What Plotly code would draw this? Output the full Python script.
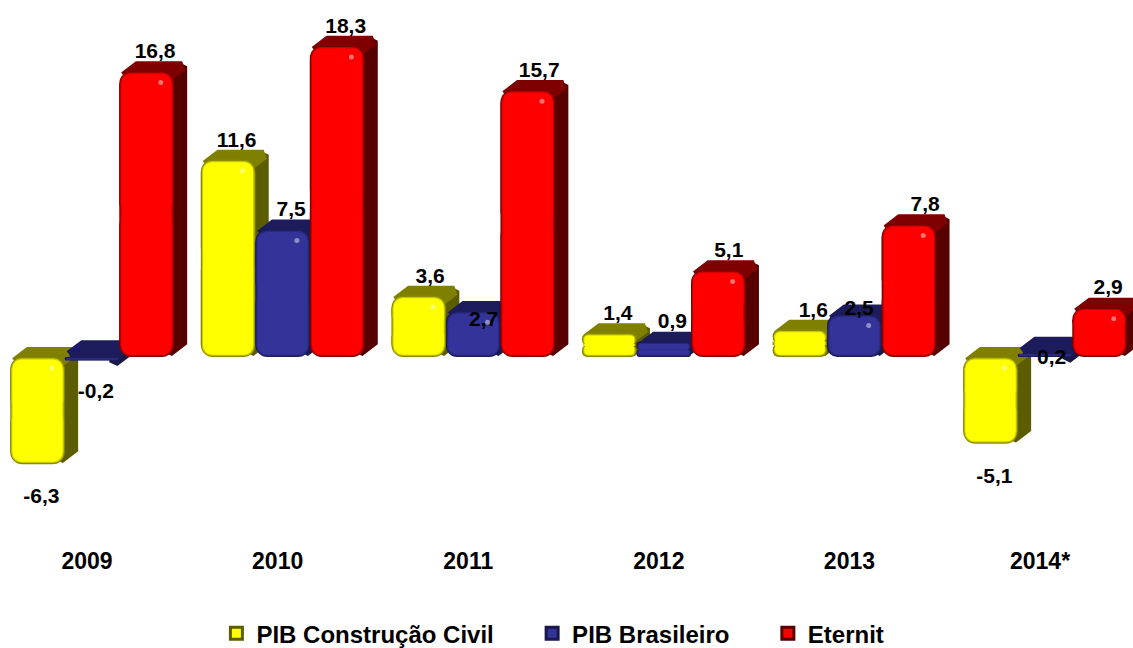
import plotly.graph_objects as go

years = ['2009', '2010', '2011', '2012', '2013', '2014*']
construcao = [-6.3, 11.6, 3.6, 1.4, 1.6, -5.1]
brasileiro = [-0.2, 7.5, 2.7, 0.9, 2.5, 0.2]
eternit = [16.8, 18.3, 15.7, 5.1, 7.8, 2.9]

# label nudges where the original label sits off its usual spot
nudge_construcao = [0, 0, 0, 0, 0, 0]
nudge_brasileiro = [0.1, 0, -1.66, 0, -0.82, -1.4]
nudge_eternit = [0, 0, 0, 0, 0, 0]
shift_construcao = [0, 0, 0.015, 0, 0.025, 0]
shift_brasileiro = [0, 0, 0.01, 0, -0.02, -0.01]
shift_eternit = [0, 0, 0.015, 0.01, 0.04, 0]

# name, values, y nudges, x shifts, group offset, bevel colours from edge to face, top face, side face
series = [
    ('PIB Construção Civil', construcao, nudge_construcao, shift_construcao, -0.286,
     ['#8a8a00', '#caca00', '#ffff00'], '#808000', '#5c5c00'),
    ('PIB Brasileiro', brasileiro, nudge_brasileiro, shift_brasileiro, 0,
     ['#1c1c5c', '#29297e', '#333399'], '#1c1c5c', '#18184a'),
    ('Eternit', eternit, nudge_eternit, shift_eternit, 0.286,
     ['#7a0000', '#c80000', '#ff0000'], '#7f0000', '#560000'),
]

bar_w = 0.286
depth_x = 0.07
depth_y = 0.6
step_x = 0.006
step_y = 0.07
round_x = 0.026
round_y = 0.3
px_per_unit = 17

fig = go.Figure()


def polygon(faces):
    xs, ys = [], []
    for p in faces:
        xs.extend([q[0] for q in p] + [p[0][0], None])
        ys.extend([q[1] for q in p] + [p[0][1], None])
    return xs, ys


# extruded faces go on the lower axes, so every front bar covers them
for name, vals, nudges, shifts, off, bevel, top, side in series:
    top_faces, side_faces = [], []
    for i, v in enumerate(vals):
        x0 = i + off - bar_w / 2 + round_x
        x1 = i + off + bar_w / 2 - round_x
        hi = max(v, 0) - round_y
        lo = min(v, 0) + round_y
        if hi < lo:
            hi, lo = lo, hi
        top_faces.append([(x0, hi), (x0 + depth_x, hi + depth_y), (x1 + depth_x, hi + depth_y), (x1, hi)])
        side_faces.append([(x1, hi), (x1 + depth_x, hi + depth_y), (x1 + depth_x, lo + depth_y), (x1, lo)])
    for faces, colour in ((side_faces, side), (top_faces, top)):
        xs, ys = polygon(faces)
        fig.add_trace(go.Scatter(x=xs, y=ys, mode='lines', fill='toself', fillcolor=colour,
                                 line=dict(color=colour, width=10), hoverinfo='skip', showlegend=False))

for name, vals, nudges, shifts, off, bevel, top, side in series:
    xpos = [i + off for i in range(len(years))]
    # legend-only entry, bright centre and dark rim, padded to the original spacing
    fig.add_trace(go.Bar(x=[None], y=[None], name=name + '\u00a0' * 5, xaxis='x2', yaxis='y2',
                         marker=dict(color=bevel[2], line=dict(color=side, width=3))))
    for level, colour in enumerate(bevel):
        inset = level * step_y
        w = bar_w - 2 * level * step_x
        lows = [min(v, 0) + inset for v in vals]
        highs = [max(v, 0) - inset for v in vals]
        mids = [(a + b) / 2 for a, b in zip(lows, highs)]
        half = [max((b - a) / 2, 0) for a, b in zip(lows, highs)]
        radius = 12 - level * 1.5
        r_val = radius / px_per_unit
        style = dict(xaxis='x2', yaxis='y2', showlegend=False, hoverinfo='skip')
        # two halves back to back, since a bar only rounds its far end
        for sign in (1, -1):
            fig.add_trace(go.Bar(x=xpos, y=[sign * h for h in half], base=mids, width=w,
                                 marker=dict(color=colour, line=dict(width=0), cornerradius=radius), **style))
        # square filler closes the notches where the halves meet
        fig.add_trace(go.Bar(x=xpos, y=[max(2 * h - 2 * r_val, 0) for h in half],
                             base=[a + r_val for a in lows], width=w,
                             marker=dict(color=colour, line=dict(width=0)), **style))
    # the small glint near the top right of each tall enough bar
    glint = [(x + 0.075, v - 0.65) for x, v in zip(xpos, vals) if v > 2]
    glint += [(x + 0.075, -0.65) for x, v in zip(xpos, vals) if v < -2]
    fig.add_trace(go.Scatter(x=[g[0] for g in glint], y=[g[1] for g in glint], mode='markers',
                             xaxis='x2', yaxis='y2', showlegend=False, hoverinfo='skip',
                             marker=dict(color='rgba(255,255,255,0.45)', size=5)))

for name, vals, nudges, shifts, off, bevel, top, side in series:
    lx = [i + off + (0.045 if v >= 0 else 0.02) + s for i, (v, s) in enumerate(zip(vals, shifts))]
    ly = [(v + 1.09 if v >= 0 else v - 2.0) + n for v, n in zip(vals, nudges)]
    fig.add_trace(go.Scatter(x=lx, y=ly, mode='text', xaxis='x2', yaxis='y2', showlegend=False,
                             text=[str(v).replace('.', ',') for v in vals], textposition='middle center',
                             textfont=dict(family='Liberation Sans', size=21, color='black', weight='bold')))

x_range = [-0.4827, 5.4617]
y_range = [-11.35, 21]

fig.update_layout(
    width=1133, height=648,
    margin=dict(l=0, r=0, t=0, b=98, autoexpand=False),
    paper_bgcolor='white', plot_bgcolor='white',
    barmode='overlay',
    xaxis=dict(range=x_range, tickmode='array', tickvals=[i - 0.026 for i in range(len(years))], ticktext=years,
               showgrid=False, zeroline=False, showline=False, ticks='', ticklabelstandoff=-5,
               tickfont=dict(family='Liberation Sans', size=23, color='black', weight='bold')),
    yaxis=dict(range=y_range, visible=False),
    xaxis2=dict(range=x_range, overlaying='x', anchor='y2', visible=False),
    yaxis2=dict(range=y_range, overlaying='y', anchor='x2', visible=False),
    legend=dict(orientation='h', x=0.191, xanchor='left', y=-0.152, yanchor='middle',
                itemwidth=30, tracegroupgap=0,
                font=dict(family='Liberation Sans', size=24, color='black', weight='bold')),
)

fig.write_html("out.html", post_script="document.body.style.margin = '0';",
               config={'displayModeBar': False})
